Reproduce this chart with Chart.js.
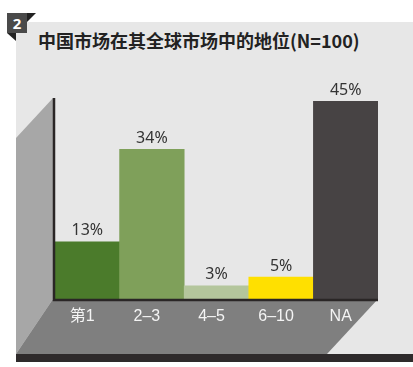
<!DOCTYPE html>
<html>
<head>
<meta charset="utf-8">
<script src="https://cdn.jsdelivr.net/npm/chart.js@4.4.0/dist/chart.umd.min.js"></script>
<style>
  body { margin: 0; background: #fff; width: 413px; height: 367px; position: relative; overflow: hidden; }
  #panel { position: absolute; left: 16px; top: 22px; width: 397px; height: 332px; background: #e7e7e7; }
  #band { position: absolute; left: 16px; top: 354px; width: 397px; height: 8px; background: #2e2a2b; }
  #badge { position: absolute; left: 7px; top: 13px; width: 20px; height: 20px; background: #4a4a4a; color: #fff;
    font: bold 15px "Noto Sans", sans-serif; text-align: center; line-height: 20px; }
  #fold1 { position: absolute; left: 27px; top: 13px; width: 0; height: 0; border-top: 9px solid #222; border-right: 9px solid transparent; }
  #fold2 { position: absolute; left: 7px; top: 33px; width: 0; height: 0; border-top: 8px solid #222; border-left: 9px solid transparent; }
  #title { position: absolute; left: 38px; top: 28px; font: bold 18px "Noto Sans CJK SC", "Noto Sans", sans-serif; color: #222; white-space: nowrap; line-height: 24px; }
  #wrap { position: absolute; left: 0; top: 0; width: 413px; height: 367px; }
</style>
</head>
<body>
<div id="panel"></div>
<div id="band"></div>
<div id="badge">2</div>
<div id="fold1"></div>
<div id="fold2"></div>
<div id="title">中国市场在其全球市场中的地位(N=100)</div>
<div id="wrap"><canvas id="myChart" width="413" height="367"></canvas></div>
<script>
const categories = ['第1', '2–3', '4–5', '6–10', 'NA'];
const shares = [13, 34, 3, 5, 45];
const barColors = ['#4b7b2b', '#7fa05a', '#b4c69c', '#ffe000', '#474344'];

// grey wall, floor and axis lines behind the bars
const stage = {
    id: 'stage',
    beforeDraw(chart) {
        const ctx = chart.ctx;
        const a = chart.chartArea;
        const floorY = 354;
        ctx.save();
        ctx.fillStyle = '#a7a7a7';
        ctx.beginPath();
        ctx.moveTo(a.left - 2, a.top - 3);
        ctx.lineTo(16, 138);
        ctx.lineTo(16, floorY);
        ctx.lineTo(a.left - 2, a.bottom);
        ctx.closePath();
        ctx.fill();
        ctx.fillStyle = '#7f7f7f';
        ctx.beginPath();
        ctx.moveTo(a.left - 2, a.bottom);
        ctx.lineTo(a.right, a.bottom);
        ctx.lineTo(327, floorY);
        ctx.lineTo(16, floorY);
        ctx.closePath();
        ctx.fill();
        ctx.restore();
    },
    afterDatasetsDraw(chart) {
        const ctx = chart.ctx;
        const a = chart.chartArea;
        ctx.save();
        ctx.strokeStyle = '#2a2626';
        ctx.lineWidth = 2.5;
        ctx.beginPath();
        ctx.moveTo(a.left - 1, a.top - 3);
        ctx.lineTo(a.left - 1, a.bottom + 1);
        ctx.lineTo(a.right, a.bottom + 1);
        ctx.stroke();

        ctx.fillStyle = '#333';
        ctx.font = '16px "Noto Sans", sans-serif';
        ctx.textAlign = 'center';
        ctx.textBaseline = 'bottom';
        chart.getDatasetMeta(0).data.forEach((bar, i) => {
            ctx.fillText(shares[i] + '%', bar.x, bar.y - 3);
        });
        ctx.restore();
    }
};

var ctx = document.getElementById('myChart').getContext('2d');
var myChart = new Chart(ctx, {
    type: 'bar',
    data: {
        labels: categories,
        datasets: [{
            data: shares,
            backgroundColor: barColors,
            borderWidth: 0,
            barPercentage: 1,
            categoryPercentage: 1
        }]
    },
    options: {
        responsive: false,
        animation: false,
        layout: { padding: { left: 55, right: 35, top: 101, bottom: 13 } },
        scales: {
            x: {
                grid: { display: false, drawTicks: false },
                border: { display: false },
                ticks: {
                    color: '#f4f4f4',
                    font: { size: 16, family: '"Liberation Sans", "Noto Sans CJK SC", sans-serif' },
                    padding: 8,
                    labelOffset: -5
                },
                afterFit(scale) { scale.height = 55; }
            },
            y: {
                display: false,
                min: 0,
                max: 45
            }
        },
        plugins: {
            legend: { display: false },
            tooltip: { enabled: false }
        }
    },
    plugins: [stage]
});
</script>
</body>
</html>
